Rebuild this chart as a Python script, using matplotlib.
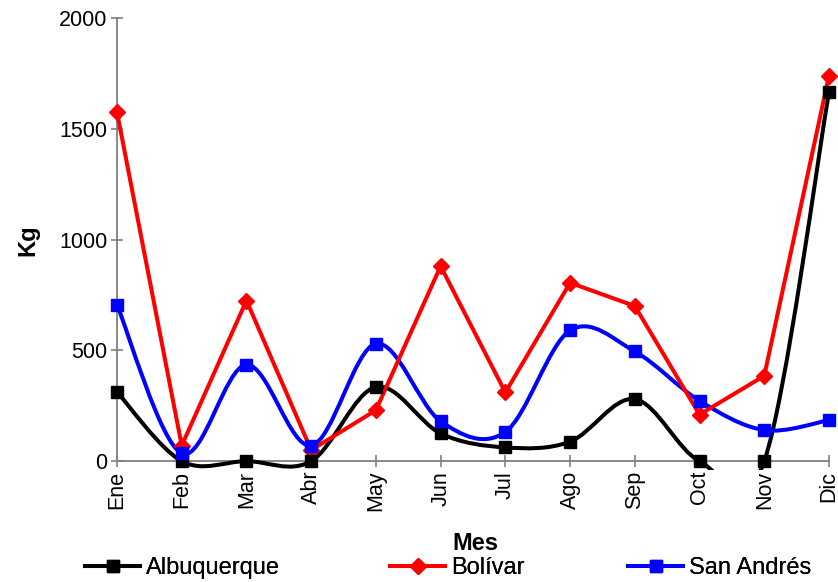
import matplotlib
matplotlib.use("Agg")
import matplotlib.pyplot as plt
from matplotlib.path import Path
from matplotlib.patches import PathPatch
from matplotlib.lines import Line2D

plt.rcParams['font.family'] = ['Liberation Sans', 'DejaVu Sans']

months = ["Ene", "Feb", "Mar", "Abr", "May", "Jun", "Jul", "Ago", "Sep", "Oct", "Nov", "Dic"]
albuquerque = [312, 0, 0, 0, 335, 125, 62, 88, 280, 0, 0, 1665]
bolivar = [1575, 70, 725, 50, 230, 880, 310, 805, 700, 210, 385, 1740]
san_andres = [705, 35, 435, 70, 530, 180, 132, 590, 495, 272, 140, 185]
series_names = ["Albuquerque", "Bolívar", "San Andrés"]
yticks = [0, 500, 1000, 1500, 2000]


def smooth_path(xs, ys):
    n = len(xs)
    pts = list(zip(xs, ys))
    verts = [pts[0]]
    codes = [Path.MOVETO]
    for i in range(n - 1):
        p0 = pts[i - 1] if i > 0 else pts[i]
        p1 = pts[i]
        p2 = pts[i + 1]
        p3 = pts[i + 2] if i + 2 < n else pts[i + 1]
        c1 = (p1[0] + (p2[0] - p0[0]) / 6.0, p1[1] + (p2[1] - p0[1]) / 6.0)
        c2 = (p2[0] - (p3[0] - p1[0]) / 6.0, p2[1] - (p3[1] - p1[1]) / 6.0)
        verts += [c1, c2, p2]
        codes += [Path.CURVE4] * 3
    return Path(verts, codes)


fig = plt.figure(figsize=(8.38, 5.82), dpi=100)
ax = fig.add_axes([107.3 / 838, 1 - 470 / 582, (837.4 - 107.3) / 838, 452 / 582])

x = list(range(len(months)))
lw = 2.9
ms_sq = 8
ms_d = 8

# Albuquerque (smoothed)
ax.add_patch(PathPatch(smooth_path(x, albuquerque), facecolor='none', edgecolor='black', lw=lw, zorder=3))
ax.plot(x, albuquerque, linestyle='none', marker='s', color='black', markersize=ms_sq, zorder=5)

# Bolívar (straight)
ax.plot(x, bolivar, color='#ff0000', lw=lw, marker='D', markersize=ms_d, zorder=4)

# San Andrés (smoothed)
ax.add_patch(PathPatch(smooth_path(x, san_andres), facecolor='none', edgecolor='#0000ff', lw=lw, zorder=3))
ax.plot(x, san_andres, linestyle='none', marker='s', color='#0000ff', markersize=ms_sq, zorder=5)

ax.set_xlim(-0.15, 11.13)
ax.set_ylim(-40, 2000)

for s in ['top', 'right']:
    ax.spines[s].set_visible(False)
ax.spines['left'].set_position(('data', 0))
ax.spines['bottom'].set_position(('data', 0))
ax.spines['left'].set_bounds(0, 2000)
ax.spines['bottom'].set_bounds(0, 11)
for s in ['left', 'bottom']:
    ax.spines[s].set_color('#808080')
    ax.spines[s].set_linewidth(1.3)

ax.set_yticks(yticks)
ax.set_yticklabels([str(v) for v in yticks], fontsize=15.5)
ax.set_xticks(x)
ax.set_xticklabels(months, rotation=90, fontsize=15.5)
ax.tick_params(axis='both', direction='inout', length=8, color='#808080', width=1.2)
ax.tick_params(axis='y', pad=3)
ax.tick_params(axis='x', pad=3)

fig.text(28 / 838, 1 - 240 / 582, "Kg", rotation=90, fontsize=17, fontweight='bold', ha='center', va='center')
fig.text(475 / 838, 1 - 543 / 582, "Mes", fontsize=17, fontweight='bold', ha='center', va='center')

handles = [
    Line2D([], [], color='black', lw=lw, marker='s', markersize=ms_sq),
    Line2D([], [], color='#ff0000', lw=lw, marker='D', markersize=ms_d),
    Line2D([], [], color='#0000ff', lw=lw, marker='s', markersize=ms_sq),
]
legend_x = [85, 390, 628]
for h, name, lx in zip(handles, series_names, legend_x):
    leg = fig.legend([h], [name], loc='center left', bbox_to_anchor=(lx / 838, 1 - 568 / 582),
                     frameon=False, fontsize=17, handlelength=2.35, handletextpad=0.25,
                     borderpad=0, borderaxespad=0)
    fig.add_artist(leg)

fig.savefig("out.png", dpi=100)
